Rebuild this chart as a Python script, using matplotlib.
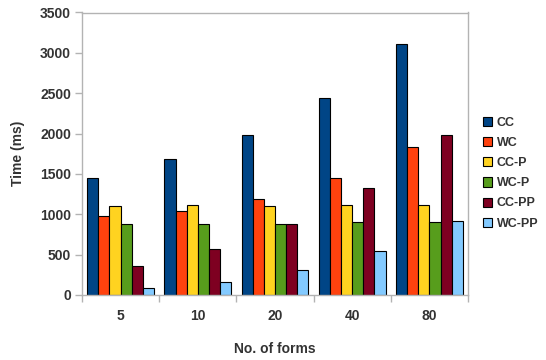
import numpy as np
import matplotlib.pyplot as plt
from matplotlib.patches import Patch

plt.rcParams['font.family'] = ['Liberation Sans', 'DejaVu Sans']
plt.rcParams['font.weight'] = 'bold'

forms = ['5', '10', '20', '40', '80']
series = ['CC', 'WC', 'CC-P', 'WC-P', 'CC-PP', 'WC-PP']
cc = [1450, 1685, 1980, 2445, 3105]
wc = [975, 1040, 1195, 1445, 1835]
cc_p = [1100, 1110, 1100, 1120, 1120]
wc_p = [885, 880, 885, 900, 910]
cc_pp = [355, 570, 880, 1320, 1980]
wc_pp = [90, 165, 310, 545, 920]
colors = ['#004586', '#ff420e', '#ffd320', '#579d1c', '#7e0021', '#83caff']

values = [cc, wc, cc_p, wc_p, cc_pp, wc_pp]
grey = '#333333'
axis_grey = '#b3b3b3'

fig = plt.figure(figsize=(5.46, 3.6), dpi=100)
ax = fig.add_axes([82/546, 1 - 295/360, 386/546, 282.5/360])

# six bars per group, side by side
x = np.arange(len(forms))
n = len(series)
group_w = 0.864
w = group_w / n
for i, (vals, c) in enumerate(zip(values, colors)):
    ax.bar(x - group_w/2 + w*(i + 0.5), vals, w, color=c,
           edgecolor='black', linewidth=0.8, label=series[i])

ax.set_xlim(-0.5, len(forms) - 0.5)
ax.set_ylim(0, 3500)
ax.set_yticks(np.arange(0, 3501, 500))
ax.set_xticks(x)
ax.set_xticklabels(forms)
ax.set_xticks(np.arange(-0.5, len(forms)), minor=True)
ax.tick_params(axis='x', which='major', length=0, pad=10, labelsize=10, labelcolor=grey)
ax.tick_params(axis='x', which='minor', length=5, color=axis_grey, width=1)
ax.tick_params(axis='y', length=5, color=axis_grey, width=1, labelsize=10, labelcolor=grey, pad=3)
for s in ax.spines.values():
    s.set_color(axis_grey)
    s.set_linewidth(1)

ax.set_ylabel('Time (ms)', fontsize=10, color=grey, fontweight='bold', labelpad=11)
ax.set_xlabel('No. of forms', fontsize=10, color=grey, fontweight='bold', labelpad=14)

handles = [Patch(facecolor=c, edgecolor='black', linewidth=0.8) for c in colors]
fig.legend(handles, series, loc='upper left', bbox_to_anchor=(478/546, 1 - 112/360),
           frameon=False, fontsize=9, handlelength=0.75, handleheight=0.75,
           handletextpad=0.35, labelspacing=0.65, labelcolor=grey, borderaxespad=0)

fig.savefig('out.png', dpi=100)
